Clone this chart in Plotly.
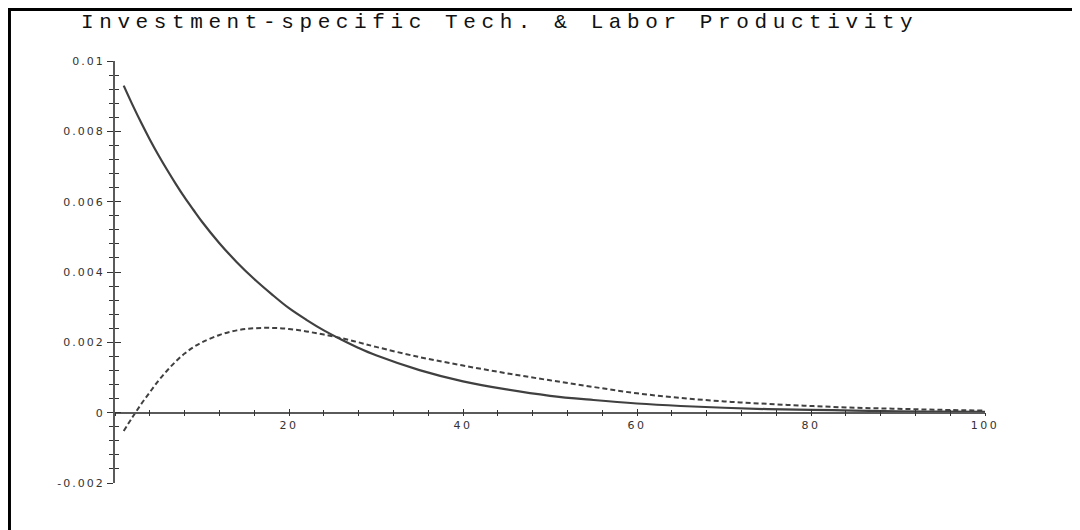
import plotly.graph_objects as go

# ---- data ----
x_vals = [1, 2, 3, 4, 5, 6, 7, 8, 9, 10, 12, 14, 16, 18, 20, 22, 24, 26, 28, 30,
          35, 40, 45, 50, 55, 60, 65, 70, 75, 80, 85, 90, 95, 100]
solid_vals = [0.00930, 0.00876, 0.00825, 0.00777, 0.00732, 0.00690, 0.00650, 0.00612,
              0.00577, 0.00543, 0.00482, 0.00428, 0.00380, 0.00337, 0.00297, 0.00264,
              0.00234, 0.00208, 0.00184, 0.00163, 0.00121, 0.00089, 0.00066, 0.00048,
              0.00036, 0.00026, 0.00019, 0.00014, 0.00010, 0.00008, 0.00006, 0.00004,
              0.00003, 0.00002]
dashed_vals = [-0.00052, -0.00013, 0.00024, 0.00058, 0.00091, 0.00120, 0.00146, 0.00168,
               0.00186, 0.00200, 0.00221, 0.00234, 0.00240, 0.00241, 0.00238, 0.00231,
               0.00222, 0.00212, 0.00200, 0.00187, 0.00158, 0.00134, 0.00112, 0.00092,
               0.00073, 0.00055, 0.00042, 0.00032, 0.00025, 0.00019, 0.00014, 0.00011,
               0.00008, 0.00006]

x_tickvals = [20, 40, 60, 80, 100]
x_ticktext = ["20", "40", "60", "80", "100"]
y_tickvals = [-0.002, 0, 0.002, 0.004, 0.006, 0.008, 0.01]
y_ticktext = ["-0.002", "0", "0.002", "0.004", "0.006", "0.008", "0.01"]
title_text = "Investment-specific Tech. & Labor Productivity"

X_RANGE = [0, 100]
Y_RANGE = [-0.002, 0.01]

LINE_COLOR = "#404040"
AXIS_COLOR = "#5a5a5a"
TICK_FONT = dict(family="DejaVu Sans", size=11, color="#333333")


def spaced(s, px):
    return '<span style="letter-spacing:%spx">%s</span>' % (px, s)


fig = go.Figure()
fig.add_trace(go.Scatter(x=x_vals, y=solid_vals, mode="lines",
                         line=dict(color=LINE_COLOR, width=2.2, shape="spline"),
                         showlegend=False, hoverinfo="skip"))
fig.add_trace(go.Scatter(x=x_vals, y=dashed_vals, mode="lines",
                         line=dict(color=LINE_COLOR, width=2, dash="5px,3px", shape="spline"),
                         showlegend=False, hoverinfo="skip"))
# empty trace so the overlay axes (used for the inner half of ticks) are drawn
fig.add_trace(go.Scatter(x=[], y=[], xaxis="x2", yaxis="y2", showlegend=False,
                         hoverinfo="skip"))

zero_pos = (0 - Y_RANGE[0]) / (Y_RANGE[1] - Y_RANGE[0])

common_x = dict(range=X_RANGE, showgrid=False, zeroline=False, anchor="free",
                position=zero_pos, tickcolor="#333", tickwidth=1.3, fixedrange=True)
common_y = dict(range=Y_RANGE, showgrid=False, zeroline=False, anchor="x",
                side="left", tickcolor="#333", tickwidth=1.3, fixedrange=True)

fig.update_layout(
    width=1080, height=530,
    margin=dict(l=107, r=103, t=53, b=55),
    paper_bgcolor="white", plot_bgcolor="white",
    xaxis=dict(**common_x, showline=True, linecolor=AXIS_COLOR, linewidth=1.6,
               ticks="outside", ticklen=3, tickmode="array",
               tickvals=x_tickvals, ticktext=[spaced(t, 2.5) for t in x_ticktext],
               tickfont=TICK_FONT, ticklabelstandoff=-1,
               minor=dict(tickmode="linear", tick0=0, dtick=4, ticks="outside",
                          ticklen=3, tickcolor="#333", tickwidth=1.2)),
    xaxis2=dict(**common_x, overlaying="x", showline=False, ticks="inside",
                ticklen=4, tickmode="array", tickvals=x_tickvals,
                showticklabels=False,
                minor=dict(tickmode="linear", tick0=0, dtick=4, ticks="inside",
                           ticklen=3, tickcolor="#333", tickwidth=1.2)),
    yaxis=dict(**common_y, showline=True, linecolor=AXIS_COLOR, linewidth=2,
               ticks="outside", ticklen=6, tickmode="array",
               tickvals=y_tickvals, ticktext=[spaced(t, 2) for t in y_ticktext],
               tickfont=TICK_FONT,
               minor=dict(tickmode="linear", tick0=0, dtick=0.0004, ticks="outside",
                          ticklen=4, tickcolor="#333", tickwidth=1.2)),
    yaxis2=dict(**common_y, overlaying="y", showline=False, ticks="inside",
                ticklen=6, tickmode="array", tickvals=y_tickvals,
                showticklabels=False,
                minor=dict(tickmode="linear", tick0=0, dtick=0.0004, ticks="inside",
                           ticklen=4, tickcolor="#333", tickwidth=1.2)),
    shapes=[dict(type="rect", xref="paper", yref="paper",
                 x0=-0.1213, x1=1.3, y0=-0.3, y1=1.122,
                 line=dict(color="black", width=3), fillcolor="rgba(0,0,0,0)",
                 layer="above")],
    annotations=[dict(text=spaced(title_text, 5.6), xref="paper", yref="paper",
                      x=0.4425, y=1.1232, xanchor="center", yanchor="top",
                      showarrow=False,
                      font=dict(family="Liberation Mono", size=21, color="#111"))],
)

fig.write_html("out.html")
